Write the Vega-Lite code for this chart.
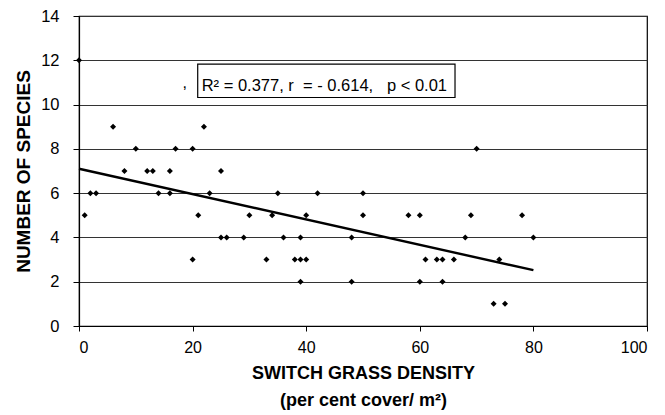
{
  "$schema": "https://vega.github.io/schema/vega-lite/v6.json",
  "width": 568,
  "height": 310,
  "autosize": "none",
  "padding": {"left": 79, "top": 16, "right": 18, "bottom": 89},
  "background": "white",
  "config": {
    "font": "Liberation Sans",
    "view": {"stroke": "black", "strokeWidth": 1.2}
  },
  "datasets": {
    "points": [
      {"x": 0, "y": 12}, {"x": 1, "y": 5}, {"x": 2, "y": 6}, {"x": 3, "y": 6},
      {"x": 6, "y": 9}, {"x": 8, "y": 7}, {"x": 10, "y": 8}, {"x": 12, "y": 7},
      {"x": 13, "y": 7}, {"x": 14, "y": 6}, {"x": 16, "y": 7}, {"x": 16, "y": 6},
      {"x": 17, "y": 8}, {"x": 20, "y": 8}, {"x": 20, "y": 3}, {"x": 21, "y": 5},
      {"x": 22, "y": 9}, {"x": 23, "y": 6}, {"x": 25, "y": 7}, {"x": 25, "y": 4},
      {"x": 26, "y": 4}, {"x": 29, "y": 4}, {"x": 30, "y": 5}, {"x": 33, "y": 3},
      {"x": 34, "y": 5}, {"x": 35, "y": 6}, {"x": 36, "y": 4}, {"x": 38, "y": 3},
      {"x": 39, "y": 4}, {"x": 39, "y": 3}, {"x": 39, "y": 2}, {"x": 40, "y": 5},
      {"x": 40, "y": 3}, {"x": 42, "y": 6}, {"x": 48, "y": 4}, {"x": 48, "y": 2},
      {"x": 50, "y": 6}, {"x": 50, "y": 5}, {"x": 58, "y": 5}, {"x": 60, "y": 5},
      {"x": 60, "y": 2}, {"x": 61, "y": 3}, {"x": 63, "y": 3}, {"x": 64, "y": 3},
      {"x": 64, "y": 2}, {"x": 66, "y": 3}, {"x": 68, "y": 4}, {"x": 69, "y": 5},
      {"x": 70, "y": 8}, {"x": 73, "y": 1}, {"x": 74, "y": 3}, {"x": 75, "y": 1},
      {"x": 78, "y": 5}, {"x": 80, "y": 4}
    ],
    "trend": [{"x": 0, "y": 7.1}, {"x": 80, "y": 2.52}],
    "box": [{"x": 20.9, "x2": 66.2, "y": 10.32, "y2": 11.83}],
    "label": [{"x": 21.6, "y": 10.6, "text": "R² = 0.377, r\u00a0 = - 0.614,\u00a0\u00a0 p < 0.01"}],
    "comma": [{"x": 18.6, "y": 10.75, "text": ","}]
  },
  "encoding": {
    "x": {
      "field": "x",
      "type": "quantitative",
      "scale": {"domain": [0, 100], "nice": false, "zero": false},
      "axis": {
        "values": [0, 20, 40, 60, 80, 100],
        "grid": false,
        "domainColor": "black",
        "domainWidth": 1.2,
        "tickColor": "black",
        "tickSize": 5,
        "labelFontSize": 16,
        "labelColor": "black",
        "labelPadding": 8,
        "title": ["SWITCH GRASS DENSITY", "(per cent cover/ m²)"],
        "titleFontSize": 18,
        "titleFontWeight": "bold",
        "titleColor": "black",
        "titleLineHeight": 27,
        "titlePadding": 9
      }
    },
    "y": {
      "field": "y",
      "type": "quantitative",
      "scale": {"domain": [0, 14], "nice": false, "zero": false},
      "axis": {
        "values": [0, 2, 4, 6, 8, 10, 12, 14],
        "grid": true,
        "gridColor": "#333333",
        "gridWidth": 1,
        "domainColor": "black",
        "domainWidth": 1.2,
        "tickColor": "black",
        "tickSize": 6,
        "labelFontSize": 16.5,
        "labelColor": "black",
        "labelPadding": 14,
        "title": "NUMBER OF SPECIES",
        "titleFontSize": 19,
        "titleFontWeight": "bold",
        "titleColor": "black",
        "titlePadding": 7
      }
    }
  },
  "layer": [
    {
      "data": {"name": "box"},
      "mark": {"type": "rect", "fill": "white", "stroke": "black", "strokeWidth": 1.2},
      "encoding": {"x2": {"field": "x2"}, "y2": {"field": "y2"}}
    },
    {
      "data": {"name": "trend"},
      "mark": {"type": "line", "color": "black", "strokeWidth": 2.4}
    },
    {
      "data": {"name": "points"},
      "mark": {"type": "point", "shape": "diamond", "filled": true, "color": "black", "size": 36, "opacity": 1}
    },
    {
      "data": {"name": "label"},
      "mark": {"type": "text", "align": "left", "baseline": "alphabetic", "fontSize": 16.5, "color": "black"},
      "encoding": {"text": {"field": "text"}}
    },
    {
      "data": {"name": "comma"},
      "mark": {"type": "text", "align": "center", "baseline": "alphabetic", "fontSize": 16, "color": "black"},
      "encoding": {"text": {"field": "text"}}
    }
  ]
}
